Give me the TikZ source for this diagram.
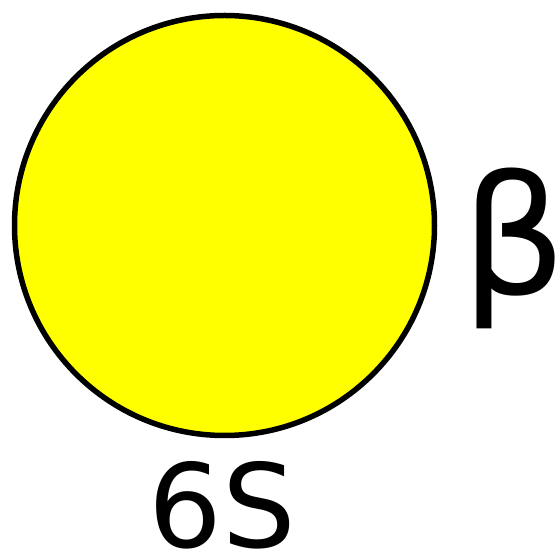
\documentclass[tikz,border=0pt]{standalone}
\usepackage{fontspec}
\setmainfont{DejaVu Sans}
\usepackage{tikz}
\usetikzlibrary{positioning}
\definecolor{orbyellow}{HTML}{FFFF00}
\tikzset{
  orbital/.style={
    circle, draw=black, fill=orbyellow, line width=0.11cm,
    minimum size=8.4cm, inner sep=0pt
  },
  labelnode/.style={
    inner sep=0pt, text=black, font=#1
  },
  labelnode/.default=\fontsize{66}{70}\selectfont,
}
\begin{document}
\begin{tikzpicture}
\useasboundingbox (0,0) rectangle (11.2,-11.04);

% orbital
\node[orbital] (orb) at (4.49,-4.51) {};

% labels
\node[labelnode={\fontsize{94}{100}\selectfont}] (spin) at (10.28,-4.96) {β};
\node[labelnode, anchor=base] (name) at (4.45,-10.96) {6S};

\end{tikzpicture}
\end{document}
